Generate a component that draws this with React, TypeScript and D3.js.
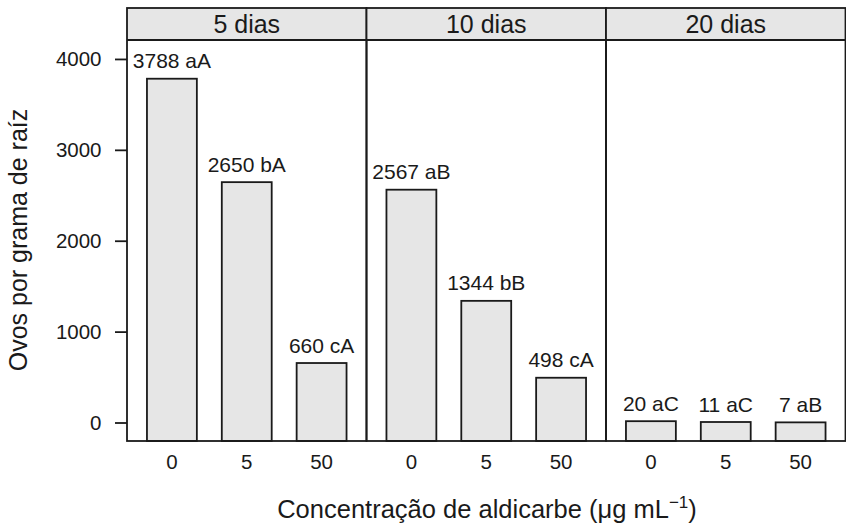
import React from "react";
import * as d3 from "d3";

const panels = ["5 dias", "10 dias", "20 dias"];
const concentrations = ["0", "5", "50"];
const values5 = [3788, 2650, 660];
const values10 = [2567, 1344, 498];
const values20 = [20, 11, 7];
const letters5 = ["aA", "bA", "cA"];
const letters10 = ["aB", "bB", "cA"];
const letters20 = ["aC", "aC", "aB"];
const yTicks = [0, 1000, 2000, 3000, 4000];
const yTitle = "Ovos por grama de raíz";

const seriesValues = [values5, values10, values20];
const seriesLetters = [letters5, letters10, letters20];

const W = 846;
const H = 525;
const plotLeft = 127;
const plotRight = 845.5;
const stripTop = 8;
const stripBottom = 40;
const plotBottom = 441;
const FONT = "'Liberation Sans', Arial, Helvetica, sans-serif";
const INK = "#1a1a1a";
const FILL = "#e6e6e6";

export default function App() {
  const panelW = (plotRight - plotLeft) / panels.length;
  const y = d3.scaleLinear().domain([-198, 4214]).range([plotBottom, stripBottom]);
  const sw = 1.8;

  return (
    <svg
      width={W}
      height={H}
      style={{ position: "absolute", left: 0, top: 0, background: "#fff" }}
      fontFamily={FONT}
    >
      {panels.map((p, pi) => {
        const x0 = plotLeft + pi * panelW;
        const x = d3.scaleLinear().domain([0.4, 3.6]).range([x0, x0 + panelW]);
        const unit = x(2) - x(1);
        const bw = unit * (2 / 3);
        const vals = seriesValues[pi];
        const lets = seriesLetters[pi];
        return (
          <g key={p}>
            <rect x={x0} y={stripTop} width={panelW} height={stripBottom - stripTop} fill={FILL} stroke="none" />
            <text x={x0 + panelW / 2} y={33} textAnchor="middle" fontSize={25} fill={INK}>
              {p}
            </text>
            {vals.map((v, i) => {
              const cx = x(i + 1);
              const top = y(v);
              return (
                <g key={i}>
                  <rect
                    x={cx - bw / 2}
                    y={top}
                    width={bw}
                    height={plotBottom - top}
                    fill={FILL}
                    stroke={INK}
                    strokeWidth={sw}
                  />
                  <text x={cx} y={top - 10.5} textAnchor="middle" fontSize={21} fill={INK}>
                    {`${v} ${lets[i]}`}
                  </text>
                </g>
              );
            })}
            {concentrations.map((c, i) => (
              <text key={c} x={x(i + 1)} y={469} textAnchor="middle" fontSize={20.5} fill={INK}>
                {c}
              </text>
            ))}
            <rect x={x0} y={stripTop} width={panelW} height={plotBottom - stripTop} fill="none" stroke={INK} strokeWidth={sw} />
            <line x1={x0} x2={x0 + panelW} y1={stripBottom} y2={stripBottom} stroke={INK} strokeWidth={sw} />
          </g>
        );
      })}
      {yTicks.map((t) => (
        <g key={t}>
          <line x1={115} x2={plotLeft} y1={y(t)} y2={y(t)} stroke={INK} strokeWidth={sw} />
          <text x={101.5} y={y(t) + 7} textAnchor="end" fontSize={20.5} fill={INK}>
            {t}
          </text>
        </g>
      ))}
      <text transform={`translate(27,240) rotate(-90)`} textAnchor="middle" fontSize={25} fill={INK}>
        {yTitle}
      </text>
      <text x={487} y={518} textAnchor="middle" fontSize={25.5} fill={INK}>
        <tspan>Concentração de aldicarbe (μg mL</tspan>
        <tspan dy={-10} fontSize={17}>−1</tspan>
        <tspan dy={10}>)</tspan>
      </text>
    </svg>
  );
}
